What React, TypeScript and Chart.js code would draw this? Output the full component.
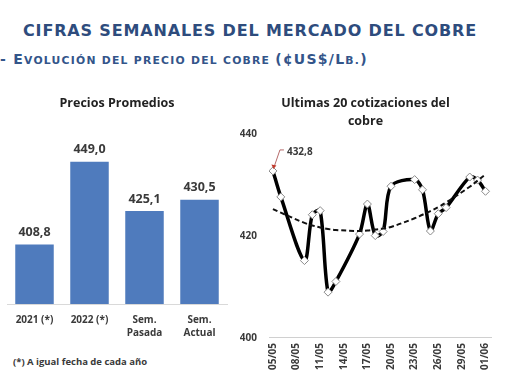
import React, { useEffect, useRef } from "react";
import { Chart, registerables } from "chart.js";

Chart.register(...registerables);

const pageTitle = "CIFRAS SEMANALES DEL MERCADO DEL COBRE";
const footnote = "(*) A igual fecha de cada año";

const barTitle = "Precios Promedios";
const barCategories = [["2021 (*)"], ["2022 (*)"], ["Sem.", "Pasada"], ["Sem.", "Actual"]];
const barValues = [408.8, 449.0, 425.1, 430.5];

const lineTitle = ["Ultimas 20 cotizaciones del", "cobre"];
const quoteYear = 2022;
const quoteDates = [
  "05/05", "06/05", "09/05", "10/05", "11/05", "12/05", "13/05", "16/05", "17/05", "18/05",
  "19/05", "20/05", "23/05", "24/05", "25/05", "26/05", "27/05", "30/05", "31/05", "01/06",
];
const quoteValues = [
  432.8, 427.7, 415.2, 424.2, 425.0, 409.0, 411.1, 420.4, 426.3, 420.1,
  420.9, 429.8, 431.1, 429.1, 421.0, 424.4, 425.6, 431.6, 431.0, 428.8,
];
const trendValues = [
  425.3, 424.6, 422.6, 422.1, 421.7, 421.4, 421.2, 421.0, 421.1, 421.3,
  421.5, 421.8, 423.5, 424.2, 424.9, 425.7, 426.6, 429.7, 430.9, 432.1,
];
const xTickLabels = ["05/05", "08/05", "11/05", "14/05", "17/05", "20/05", "23/05", "26/05", "29/05", "01/06"];
const yTickValues = [400, 420, 440];

const FONT = '"Open Sans", "Noto Sans", sans-serif';
const TEXT = "#3a3a3a";
const HEAD = '"DejaVu Sans", Verdana, sans-serif';

const toUTC = (s: string) => {
  const [d, m] = s.split("/").map(Number);
  return Date.UTC(quoteYear, m - 1, d);
};
const dayIndex = (s: string) => Math.round((toUTC(s) - toUTC(quoteDates[0])) / 86400000);
const fmt = (v: number) => v.toFixed(1).replace(".", ",");

const barLabelPlugin = {
  id: "barLabels",
  afterDatasetsDraw(chart: any) {
    const ctx = chart.ctx;
    const meta = chart.getDatasetMeta(0);
    ctx.save();
    ctx.font = `bold 12.5px ${FONT}`;
    ctx.fillStyle = TEXT;
    ctx.textAlign = "center";
    ctx.textBaseline = "middle";
    meta.data.forEach((el: any, i: number) => {
      ctx.fillText(fmt(barValues[i]), el.x, el.y - 12);
    });
    ctx.restore();
  },
};

const firstLabelPlugin = {
  id: "firstLabel",
  afterDatasetsDraw(chart: any) {
    const ctx = chart.ctx;
    const meta = chart.getDatasetMeta(1);
    const pt = meta.data[0];
    if (!pt) return;
    const x = pt.x;
    const y = pt.y;
    ctx.save();
    ctx.strokeStyle = "#b56a6a";
    ctx.lineWidth = 1;
    ctx.beginPath();
    ctx.moveTo(x + 11, y - 21);
    ctx.lineTo(x + 7, y - 21);
    ctx.lineTo(x + 1.5, y - 5);
    ctx.stroke();
    ctx.fillStyle = "#c0392b";
    ctx.beginPath();
    ctx.moveTo(x + 0.5, y - 2);
    ctx.lineTo(x - 1.5, y - 6.5);
    ctx.lineTo(x + 3.5, y - 5.5);
    ctx.closePath();
    ctx.fill();
    ctx.font = `bold 10px ${FONT}`;
    ctx.fillStyle = TEXT;
    ctx.textAlign = "left";
    ctx.textBaseline = "middle";
    ctx.fillText(fmt(quoteValues[0]), x + 14, y - 19);
    ctx.restore();
  },
};

export default function App() {
  const barRef = useRef<HTMLCanvasElement>(null);
  const lineRef = useRef<HTMLCanvasElement>(null);

  useEffect(() => {
    const barChart = new Chart(barRef.current as HTMLCanvasElement, {
      type: "bar",
      data: {
        labels: barCategories as any,
        datasets: [
          {
            data: barValues,
            backgroundColor: "#4f7bbd",
            barPercentage: 0.7,
            categoryPercentage: 1,
          },
        ],
      },
      options: {
        responsive: false,
        animation: false,
        devicePixelRatio: 1,
        layout: { padding: { left: 7, right: 8, top: 0, bottom: 0 } },
        plugins: {
          legend: { display: false },
          tooltip: { enabled: false },
          title: {
            display: true,
            text: barTitle,
            color: "#222",
            font: { family: FONT, size: 12.5, weight: "bold" },
            padding: { top: 8, bottom: 28 },
          },
        },
        scales: {
          y: { display: false, min: 380, max: 460 },
          x: {
            grid: { display: false, drawTicks: false },
            border: { display: true, color: "#d9d9d9", width: 1 },
            ticks: {
              color: TEXT,
              padding: 10,
              font: { family: FONT, size: 10, weight: "bold", lineHeight: 1.3 },
              maxRotation: 0,
            },
          },
        },
      },
      plugins: [barLabelPlugin],
    });

    const lineChart = new Chart(lineRef.current as HTMLCanvasElement, {
      type: "line",
      data: {
        datasets: [
          {
            data: quoteDates.map((d, i) => ({ x: dayIndex(d), y: trendValues[i] })),
            borderColor: "#111",
            borderWidth: 2,
            borderDash: [5, 3],
            pointRadius: 0,
            tension: 0.4,
            fill: false,
            order: 0,
          },
          {
            data: quoteDates.map((d, i) => ({ x: dayIndex(d), y: quoteValues[i] })),
            borderColor: "#000",
            borderWidth: 3.5,
            tension: 0.3,
            fill: false,
            pointStyle: "rectRot",
            pointRadius: 4,
            pointBackgroundColor: "#fff",
            pointBorderColor: "#8a8a8a",
            pointBorderWidth: 1,
            order: 1,
          },
        ],
      },
      options: {
        responsive: false,
        animation: false,
        devicePixelRatio: 1,
        layout: { padding: { left: 5, right: 19, top: 0, bottom: 7 } },
        plugins: {
          legend: { display: false },
          tooltip: { enabled: false },
          title: {
            display: true,
            text: lineTitle,
            color: "#222",
            font: { family: FONT, size: 12.5, weight: "bold", lineHeight: 1.45 },
            padding: { top: 6, bottom: 4 },
          },
        },
        scales: {
          x: {
            type: "linear",
            min: -0.5,
            max: 27.7,
            grid: { display: false, drawTicks: false },
            border: { display: true, color: "#d0d0d0", width: 1, dash: [2, 2] },
            afterBuildTicks: (scale: any) => {
              scale.ticks = xTickLabels.map((l) => ({ value: dayIndex(l) }));
            },
            ticks: {
              autoSkip: false,
              minRotation: 90,
              maxRotation: 90,
              padding: 5,
              color: TEXT,
              font: { family: FONT, size: 10, weight: "bold" },
              callback: (v: any) => {
                const l = xTickLabels.find((t) => dayIndex(t) === v);
                return l ?? "";
              },
            },
          },
          y: {
            min: 400,
            max: 440,
            grid: { display: false, drawTicks: false },
            border: { display: false },
            afterBuildTicks: (scale: any) => {
              scale.ticks = yTickValues.map((v) => ({ value: v }));
            },
            afterFit: (scale: any) => {
              scale.width = 29;
            },
            ticks: {
              padding: 12,
              color: TEXT,
              font: { family: FONT, size: 10, weight: "bold" },
            },
          },
        },
      },
      plugins: [firstLabelPlugin],
    });

    return () => {
      barChart.destroy();
      lineChart.destroy();
    };
  }, []);

  const big = { fontSize: 14 };
  const small = { fontSize: 10.8, textTransform: "uppercase" as const };

  return (
    <div
      style={{
        position: "absolute",
        left: 0,
        top: 0,
        width: 510,
        height: 382,
        background: "#fff",
        overflow: "hidden",
      }}
    >
      <div
        style={{
          position: "absolute",
          left: 23,
          top: 20,
          fontFamily: HEAD,
          fontWeight: "bold",
          fontSize: 16,
          lineHeight: "22px",
          letterSpacing: "0.85px",
          color: "#2e4c7d",
          whiteSpace: "nowrap",
        }}
      >
        {pageTitle}
      </div>
      <div
        style={{
          position: "absolute",
          left: 0,
          top: 48,
          fontFamily: HEAD,
          fontWeight: "bold",
          lineHeight: "22px",
          letterSpacing: "1.25px",
          color: "#33558a",
          whiteSpace: "nowrap",
        }}
      >
        <span style={big}>- E</span>
        <span style={small}>volución del precio del cobre </span>
        <span style={big}>(¢US$/L</span>
        <span style={small}>b.</span>
        <span style={big}>)</span>
      </div>
      <canvas
        ref={barRef}
        width={235}
        height={262}
        style={{ position: "absolute", left: 0, top: 88, width: 235, height: 262 }}
      />
      <canvas
        ref={lineRef}
        width={275}
        height={294}
        style={{ position: "absolute", left: 235, top: 88, width: 275, height: 294 }}
      />
      <div
        style={{
          position: "absolute",
          left: 13,
          top: 355,
          fontFamily: FONT,
          fontWeight: "bold",
          fontSize: 9.5,
          lineHeight: "14px",
          color: TEXT,
          whiteSpace: "nowrap",
        }}
      >
        {footnote}
      </div>
    </div>
  );
}
